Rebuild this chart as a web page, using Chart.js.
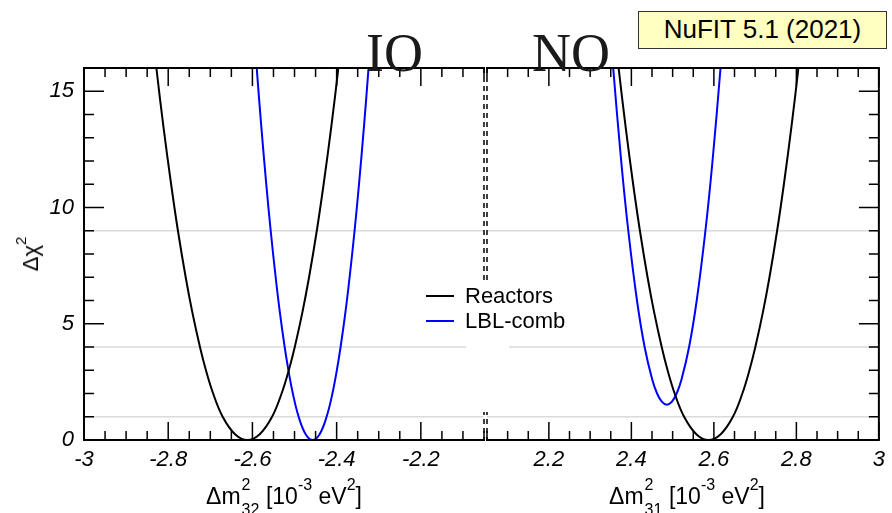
<!DOCTYPE html>
<html>
<head>
<meta charset="utf-8">
<script src="https://cdn.jsdelivr.net/npm/chart.js@4/dist/chart.umd.min.js"></script>
<style>
  body { margin: 0; background: #fff; overflow: hidden; }
  #wrap { position: relative; width: 892px; height: 513px; font-family: "Liberation Sans", Arial, sans-serif; color: #000; }
  canvas { position: absolute; top: 0; }
  .abs { position: absolute; white-space: nowrap; }
  .tag { font-family: "Liberation Serif", "Times New Roman", serif; font-size: 54px; line-height: 54px; color: #1a1a1a; }
  .xtitle { font-size: 23px; line-height: 24px; text-align: center; }
  .stk { display: inline-block; position: relative; width: 19px; height: 22px; }
  .stk span { position: absolute; left: 1px; font-size: 16px; line-height: 15px; }
  .up { position: relative; top: -14px; font-size: 16px; }
  .leg { font-size: 22px; line-height: 24px; }
</style>
</head>
<body>
<div id="wrap">
  <canvas id="io" width="486" height="513" style="left:0"></canvas>
  <canvas id="no" width="406" height="513" style="left:486px"></canvas>

  <div class="abs tag" style="left:366px; top:26px">IO</div>
  <div class="abs tag" style="left:532px; top:26px">NO</div>

  <div class="abs" style="left:638px; top:11px; width:249px; height:38px; box-sizing:border-box; background:#ffffc0; border:1.5px solid #333; font-size:26px; line-height:35px; text-align:center">NuFIT 5.1 (2021)</div>

  <!-- legend -->
  <div class="abs" style="left:466px; top:282px; width:43px; height:130px; background:#fff"></div>
  <div class="abs" style="left:426px; top:295px; width:28px; height:2px; background:#000"></div>
  <div class="abs leg" style="left:465px; top:284px">Reactors</div>
  <div class="abs" style="left:426px; top:320px; width:28px; height:2px; background:#0000ff"></div>
  <div class="abs leg" style="left:465px; top:309px">LBL-comb</div>

  <!-- axis titles -->
  <div class="abs" style="left:32px; top:254px; font-size:22px; line-height:24px; transform:translate(-50%,-50%) rotate(-90deg)">&Delta;&chi;<span class="up" style="top:-12px; font-size:15px">2</span></div>
  <div class="abs xtitle" style="left:184px; width:200px; top:482px">&Delta;m<span class="stk"><span style="top:-5px">2</span><span style="top:20px">32</span></span> [10<span class="up">-3</span> eV<span class="up">2</span>]</div>
  <div class="abs xtitle" style="left:587px; width:200px; top:482px">&Delta;m<span class="stk"><span style="top:-5px">2</span><span style="top:20px">31</span></span> [10<span class="up">-3</span> eV<span class="up">2</span>]</div>
</div>

<script>
// Δχ² profiles, inverted ordering (IO) and normal ordering (NO)
const ioReactorsX = [-2.8403, -2.8281, -2.8115, -2.7931, -2.7769, -2.7585, -2.7428, -2.7246, -2.7104,
                     -2.6933, -2.6707, -2.6413, -2.612, -2.5827, -2.5533, -2.5307, -2.5136, -2.4994,
                     -2.4812, -2.4655, -2.4471, -2.4309, -2.4125, -2.3959, -2.3837];
const ioReactorsChi = [18, 16, 13.5, 11, 9, 7, 5.5, 4, 3, 2, 1, 0.25, 0,
                       0.25, 1, 2, 3, 4, 5.5, 7, 9, 11, 13.5, 16, 18];

const ioLblX = [-2.5979, -2.5898, -2.579, -2.5671, -2.5566, -2.5448, -2.5349, -2.5234, -2.5145,
                -2.504, -2.4902, -2.4736, -2.457, -2.4404, -2.4238, -2.41, -2.3995, -2.3906,
                -2.3791, -2.3692, -2.3574, -2.3469, -2.335, -2.3242, -2.3161];
const ioLblChi = [18, 16, 13.5, 11, 9, 7, 5.5, 4, 3, 2, 1, 0.25, 0,
                  0.25, 1, 2, 3, 4, 5.5, 7, 9, 11, 13.5, 16, 18];

const noReactorsX = [2.3567, 2.3691, 2.3858, 2.4043, 2.4207, 2.4392, 2.4551, 2.4735, 2.4878,
                     2.505, 2.5278, 2.5574, 2.587, 2.6166, 2.6462, 2.669, 2.6862, 2.7005,
                     2.7189, 2.7348, 2.7533, 2.7697, 2.7882, 2.8049, 2.8173];
const noReactorsChi = [18, 16, 13.5, 11, 9, 7, 5.5, 4, 3, 2, 1, 0.25, 0,
                       0.25, 1, 2, 3, 4, 5.5, 7, 9, 11, 13.5, 16, 18];

const noLblX = [2.3472, 2.3559, 2.3753, 2.3925, 2.4136, 2.4321, 2.4505, 2.4623, 2.4742, 2.486,
                2.4978, 2.5097, 2.5215, 2.5399, 2.5584, 2.5795, 2.5967, 2.6161, 2.6248];
const noLblChi = [18, 16, 12, 9, 6, 4, 2.6, 2.0, 1.64, 1.52, 1.64, 2.0, 2.6, 4, 6, 9, 12, 16, 18];

const seriesNames = ['Reactors', 'LBL-comb'];
const seriesColors = ['#000000', '#0000ff'];

const chiLevels = [1, 4, 9];
const yTicks = [0, 5, 10, 15];
const xTicksIO = [-3, -2.8, -2.6, -2.4, -2.2];
const xTicksNO = [2.2, 2.4, 2.6, 2.8, 3];

const pts = (xs, ys) => xs.map((x, i) => ({ x: x, y: ys[i] }));

// grid levels under the curves, frame with inward ticks on top
const panelFrame = {
  id: 'panelFrame',
  beforeDatasetsDraw(chart) {
    const { ctx, chartArea: a, scales: { y } } = chart;
    ctx.save();
    ctx.strokeStyle = '#dadada';
    ctx.lineWidth = 1.5;
    chiLevels.forEach(v => {
      const py = y.getPixelForValue(v);
      ctx.beginPath(); ctx.moveTo(a.left, py); ctx.lineTo(a.right, py); ctx.stroke();
    });
    ctx.restore();
  },
  afterDatasetsDraw(chart, args, opts) {
    const { ctx, chartArea: a, scales: { x, y } } = chart;
    const seg = (x1, y1, x2, y2) => { ctx.beginPath(); ctx.moveTo(x1, y1); ctx.lineTo(x2, y2); ctx.stroke(); };
    ctx.save();
    ctx.strokeStyle = '#000';
    ctx.lineWidth = 1.5;
    const i0 = Math.ceil(x.min / 0.05 - 1e-6), i1 = Math.floor(x.max / 0.05 + 1e-6);
    for (let i = i0; i <= i1; i++) {
      const v = i * 0.05;
      const major = Math.abs(v / 0.2 - Math.round(v / 0.2)) < 1e-6;
      const len = major ? 18 : 9;
      const px = x.getPixelForValue(v);
      seg(px, a.bottom, px, a.bottom - len);
      seg(px, a.top, px, a.top + len);
    }
    const yx = opts.ySide === 'left' ? a.left : a.right;
    const dir = opts.ySide === 'left' ? 1 : -1;
    for (let v = 0; v <= 16; v++) {
      const py = y.getPixelForValue(v);
      seg(yx, py, yx + dir * (v % 5 === 0 ? 20 : 10), py);
    }
    // outer frame
    ctx.lineWidth = 2;
    seg(a.left - 1, a.top, a.right + 1, a.top);
    seg(a.left - 1, a.bottom, a.right + 1, a.bottom);
    seg(yx, a.top, yx, a.bottom);
    // broken edge between the two panels
    const ix = opts.ySide === 'left' ? a.right : a.left;
    ctx.lineWidth = 1.5;
    ctx.setLineDash([5, 4]);
    seg(ix, a.top, ix, a.bottom);
    ctx.restore();
  }
};

function makePanel(id, xr, xTicks, curves, side, pad) {
  const font = { family: '"Liberation Sans", Arial, sans-serif', size: 22, style: 'italic' };
  return new Chart(document.getElementById(id), {
    type: 'scatter',
    data: {
      datasets: curves.map((c, i) => ({
        label: seriesNames[i],
        data: c,
        showLine: true,
        borderColor: seriesColors[i],
        borderWidth: 2,
        pointRadius: 0,
        tension: 0.4
      }))
    },
    options: {
      responsive: false,
      animation: false,
      events: [],
      layout: { padding: pad },
      plugins: { legend: { display: false }, tooltip: { enabled: false }, panelFrame: { ySide: side } },
      scales: {
        x: {
          type: 'linear', min: xr[0], max: xr[1],
          afterBuildTicks: s => { s.ticks = xTicks.map(v => ({ value: v })); },
          afterFit: s => { s.height = 73; },
          grid: { display: false, drawTicks: false },
          border: { display: false },
          ticks: { padding: 7, font: font, color: '#000', maxRotation: 0, autoSkip: false,
                   callback: v => String(+v.toFixed(1)) }
        },
        y: {
          type: 'linear', min: 0, max: 16,
          display: side === 'left',
          afterBuildTicks: s => { s.ticks = yTicks.map(v => ({ value: v })); },
          afterFit: s => { s.width = side === 'left' ? 84 : 0; },
          grid: { display: false, drawTicks: false },
          border: { display: false },
          ticks: { padding: 10, font: font, color: '#000' }
        }
      }
    },
    plugins: [panelFrame]
  });
}

makePanel('io', [-3, -2.05], xTicksIO,
  [pts(ioReactorsX, ioReactorsChi), pts(ioLblX, ioLblChi)], 'left',
  { top: 68, right: 2, left: 0, bottom: 0 });
makePanel('no', [2.05, 3], xTicksNO,
  [pts(noReactorsX, noReactorsChi), pts(noLblX, noLblChi)], 'right',
  { top: 68, right: 6, left: 1, bottom: 0 });
</script>
</body>
</html>
